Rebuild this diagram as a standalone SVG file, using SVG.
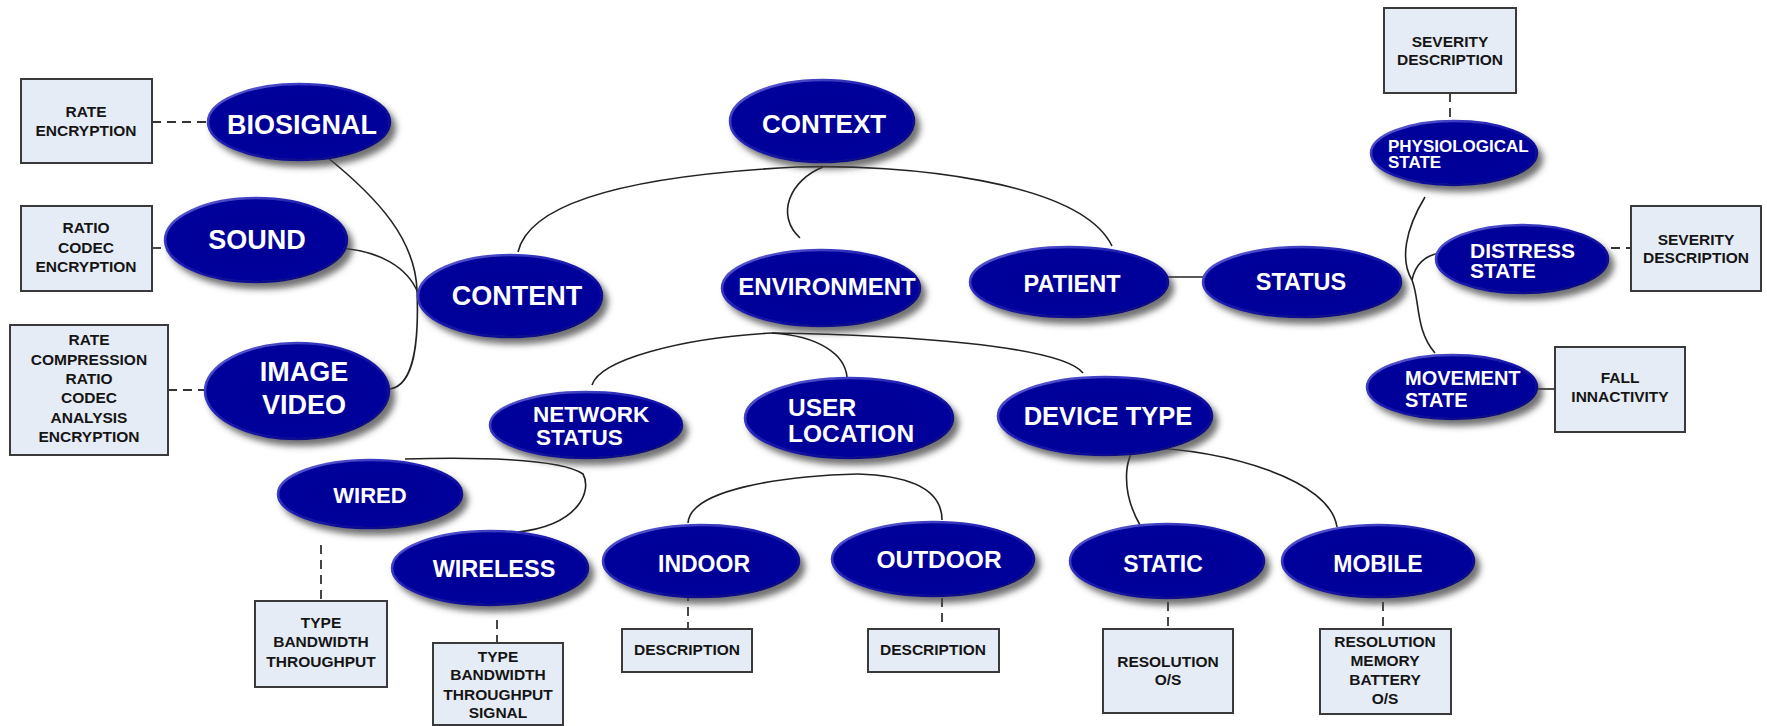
<svg xmlns="http://www.w3.org/2000/svg" width="1767" height="726" viewBox="0 0 1767 726">
<defs>
<filter id="sh" x="-20%" y="-30%" width="150%" height="170%">
<feDropShadow dx="5" dy="6" stdDeviation="3" flood-color="#444" flood-opacity="0.75"/>
</filter>
<linearGradient id="rim" x1="0" y1="0" x2="1" y2="1">
<stop offset="0" stop-color="#6a6ad8"/>
<stop offset="0.45" stop-color="#1a1ab0"/>
<stop offset="1" stop-color="#000070"/>
</linearGradient>
<radialGradient id="fillg" cx="0.5" cy="0.5" r="0.55">
<stop offset="0" stop-color="#000098"/>
<stop offset="0.85" stop-color="#00009a"/>
<stop offset="1" stop-color="#1010a8"/>
</radialGradient>
</defs>
<style>
.el{fill:url(#fillg);stroke:url(#rim);stroke-width:2.5;filter:url(#sh)}
.lt{font-family:"Liberation Sans",Arial,sans-serif;font-weight:bold;fill:#ffffff}
.bx{fill:#e6ecf6;stroke:#3a3a3a;stroke-width:2}
.bt{font-family:"Liberation Sans",Arial,sans-serif;font-weight:bold;font-size:15.5px;fill:#151515;text-anchor:middle}
.c{fill:none;stroke:#222;stroke-width:1.6}
.d{fill:none;stroke:#333;stroke-width:1.8;stroke-dasharray:9 6}
.m{text-anchor:middle}
</style>
<rect width="1767" height="726" fill="#ffffff"/>

<g id="connectors">
<path class="c" d="M327,157 C380,200 415,240 417,290 C419,340 415,385 390,389"/>
<path class="c" d="M337,248 C380,250 408,268 418,293"/>
<path class="c" d="M518,252 C530,200 640,175 797,167"/>
<path class="c" d="M797,167 C900,164 1080,180 1112,246"/>
<path class="c" d="M823,167 C790,180 775,215 800,238"/>
<path class="c" d="M1168,277 L1203,277"/>
<path class="c" d="M1425,197 C1405,230 1400,260 1412,280 C1420,300 1415,330 1435,353"/>
<path class="c" d="M1412,280 C1415,265 1425,255 1440,253"/>
<path class="c" d="M772,333 C680,338 600,360 592,385"/>
<path class="c" d="M772,333 C820,336 845,355 847,377"/>
<path class="c" d="M772,333 C900,335 1060,345 1083,373"/>
<path class="c" d="M405,459 C470,457 560,458 583,474 C592,490 580,525 518,532"/>
<path class="c" d="M858,474 C780,476 690,490 688,523"/>
<path class="c" d="M858,474 C920,476 942,495 942,520"/>
<path class="c" d="M1137,447 C1125,455 1120,490 1140,525"/>
<path class="c" d="M1137,447 C1230,450 1330,480 1337,527"/>
<path class="d" d="M152,122 L208,122"/>
<path class="d" d="M152,248 L165,248"/>
<path class="d" d="M168,390 L205,390"/>
<path class="d" d="M1450,93 L1450,122"/>
<path class="d" d="M1596,248 L1631,248"/>
<path class="c" d="M1537,389 L1555,389"/>
<path class="d" d="M321,545 L321,601"/>
<path class="d" d="M497,620 L497,643"/>
<path class="d" d="M688,592 L688,629"/>
<path class="d" d="M942,598 L942,629"/>
<path class="d" d="M1168,587 L1168,629"/>
<path class="d" d="M1383,587 L1383,629"/>
</g>

<g id="n-biosignal"><ellipse class="el" cx="299" cy="122" rx="91" ry="38"/><text class="lt m" x="302" y="134" font-size="27">BIOSIGNAL</text></g>
<g id="n-sound"><ellipse class="el" cx="256" cy="240" rx="91" ry="42"/><text class="lt m" x="257" y="249" font-size="27">SOUND</text></g>
<g id="n-image"><ellipse class="el" cx="297" cy="391" rx="92" ry="48"/><text class="lt m" x="304" y="381" font-size="27">IMAGE</text><text class="lt m" x="304" y="414" font-size="27">VIDEO</text></g>
<g id="n-content"><ellipse class="el" cx="510" cy="296" rx="92" ry="41"/><text class="lt m" x="517" y="305" font-size="27">CONTENT</text></g>
<g id="n-context"><ellipse class="el" cx="822" cy="121" rx="92" ry="41"/><text class="lt m" x="824" y="133" font-size="26">CONTEXT</text></g>
<g id="n-environment"><ellipse class="el" cx="821" cy="288" rx="99" ry="38"/><text class="lt m" x="827" y="295" font-size="24">ENVIRONMENT</text></g>
<g id="n-patient"><ellipse class="el" cx="1069" cy="282" rx="99" ry="35"/><text class="lt m" x="1072" y="292" font-size="23.5">PATIENT</text></g>
<g id="n-status"><ellipse class="el" cx="1302" cy="282" rx="99" ry="35"/><text class="lt m" x="1301" y="290" font-size="23.5">STATUS</text></g>
<g id="n-network"><ellipse class="el" cx="586" cy="425" rx="96" ry="33"/><text class="lt" x="533" y="422" font-size="22.5">NETWORK</text><text class="lt" x="536" y="445" font-size="22.5">STATUS</text></g>
<g id="n-userloc"><ellipse class="el" cx="849" cy="418" rx="104" ry="40"/><text class="lt" x="788" y="416" font-size="24.5">USER</text><text class="lt" x="788" y="442" font-size="24.5">LOCATION</text></g>
<g id="n-device"><ellipse class="el" cx="1105" cy="416" rx="107" ry="39"/><text class="lt m" x="1108" y="425" font-size="25.5">DEVICE TYPE</text></g>
<g id="n-wired"><ellipse class="el" cx="370" cy="494" rx="92" ry="34"/><text class="lt m" x="370" y="503" font-size="22">WIRED</text></g>
<g id="n-wireless"><ellipse class="el" cx="490" cy="568" rx="98" ry="37"/><text class="lt m" x="494" y="577" font-size="23.5">WIRELESS</text></g>
<g id="n-indoor"><ellipse class="el" cx="701" cy="561" rx="98" ry="36"/><text class="lt m" x="704" y="572" font-size="23">INDOOR</text></g>
<g id="n-outdoor"><ellipse class="el" cx="933" cy="559" rx="101" ry="37"/><text class="lt m" x="939" y="568" font-size="24.5">OUTDOOR</text></g>
<g id="n-static"><ellipse class="el" cx="1167" cy="561" rx="97" ry="37"/><text class="lt m" x="1163" y="572" font-size="23">STATIC</text></g>
<g id="n-mobile"><ellipse class="el" cx="1378" cy="561" rx="96" ry="36"/><text class="lt m" x="1378" y="572" font-size="23">MOBILE</text></g>
<g id="n-physio"><ellipse class="el" cx="1454" cy="153" rx="83" ry="32"/><text class="lt" x="1388" y="152" font-size="17">PHYSIOLOGICAL</text><text class="lt" x="1388" y="168" font-size="17">STATE</text></g>
<g id="n-distress"><ellipse class="el" cx="1522" cy="259" rx="86" ry="34"/><text class="lt" x="1470" y="258" font-size="21">DISTRESS</text><text class="lt" x="1470" y="278" font-size="21">STATE</text></g>
<g id="n-movement"><ellipse class="el" cx="1452" cy="387" rx="85" ry="32"/><text class="lt" x="1405" y="385" font-size="20">MOVEMENT</text><text class="lt" x="1405" y="407" font-size="20">STATE</text></g>

<g id="b-biosignal"><rect class="bx" x="21" y="79" width="131" height="84"/><text class="bt" x="86" y="117">RATE</text><text class="bt" x="86" y="136">ENCRYPTION</text></g>
<g id="b-sound"><rect class="bx" x="21" y="206" width="131" height="85"/><text class="bt" x="86" y="233">RATIO</text><text class="bt" x="86" y="253">CODEC</text><text class="bt" x="86" y="272">ENCRYPTION</text></g>
<g id="b-image"><rect class="bx" x="10" y="325" width="158" height="130"/><text class="bt" x="89" y="345">RATE</text><text class="bt" x="89" y="365">COMPRESSION</text><text class="bt" x="89" y="384">RATIO</text><text class="bt" x="89" y="403">CODEC</text><text class="bt" x="89" y="423">ANALYSIS</text><text class="bt" x="89" y="442">ENCRYPTION</text></g>
<g id="b-physio"><rect class="bx" x="1384" y="8" width="132" height="85"/><text class="bt" x="1450" y="47">SEVERITY</text><text class="bt" x="1450" y="65">DESCRIPTION</text></g>
<g id="b-distress"><rect class="bx" x="1631" y="206" width="130" height="85"/><text class="bt" x="1696" y="245">SEVERITY</text><text class="bt" x="1696" y="263">DESCRIPTION</text></g>
<g id="b-movement"><rect class="bx" x="1555" y="347" width="130" height="85"/><text class="bt" x="1620" y="383">FALL</text><text class="bt" x="1620" y="402">INNACTIVITY</text></g>
<g id="b-wired"><rect class="bx" x="255" y="601" width="132" height="86"/><text class="bt" x="321" y="628">TYPE</text><text class="bt" x="321" y="647">BANDWIDTH</text><text class="bt" x="321" y="667">THROUGHPUT</text></g>
<g id="b-wireless"><rect class="bx" x="433" y="643" width="130" height="82"/><text class="bt" x="498" y="662">TYPE</text><text class="bt" x="498" y="680">BANDWIDTH</text><text class="bt" x="498" y="700">THROUGHPUT</text><text class="bt" x="498" y="718">SIGNAL</text></g>
<g id="b-indoor"><rect class="bx" x="622" y="629" width="130" height="43"/><text class="bt" x="687" y="655">DESCRIPTION</text></g>
<g id="b-outdoor"><rect class="bx" x="868" y="629" width="131" height="43"/><text class="bt" x="933" y="655">DESCRIPTION</text></g>
<g id="b-static"><rect class="bx" x="1103" y="629" width="130" height="84"/><text class="bt" x="1168" y="667">RESOLUTION</text><text class="bt" x="1168" y="685">O/S</text></g>
<g id="b-mobile"><rect class="bx" x="1320" y="629" width="131" height="85"/><text class="bt" x="1385" y="647">RESOLUTION</text><text class="bt" x="1385" y="666">MEMORY</text><text class="bt" x="1385" y="685">BATTERY</text><text class="bt" x="1385" y="704">O/S</text></g>
</svg>
